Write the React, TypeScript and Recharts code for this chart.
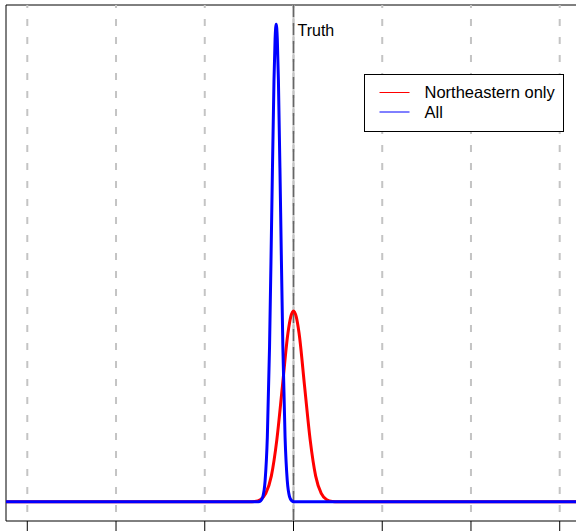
import { Legend, Line, LineChart, ReferenceArea, ReferenceLine, XAxis, YAxis } from 'recharts';

// density of the estimate, Northeastern only
const redX = [-3.24, -0.5, -0.4375, -0.375, -0.3125, -0.25, -0.1875, -0.125, -0.0625, -0.03125, 0, 0.03125, 0.0625, 0.125, 0.1875, 0.25, 0.3125, 0.375, 0.4375, 0.5, 3.24];
const redY = [0, 0.001, 0.007, 0.035, 0.14, 0.43, 1.04, 1.93, 2.82, 3.09, 3.19, 3.09, 2.82, 1.93, 1.04, 0.43, 0.14, 0.035, 0.007, 0.001, 0];

// density of the estimate, all units
const blueX = [-3.24, -0.395, -0.37, -0.345, -0.32, -0.295, -0.27, -0.245, -0.22, -0.2075, -0.195, -0.1825, -0.17, -0.145, -0.12, -0.095, -0.07, -0.045, -0.02, 0.005, 3.24];
const blueY = [0, 0.003, 0.018, 0.089, 0.35, 1.08, 2.59, 4.84, 7.04, 7.73, 7.98, 7.73, 7.04, 4.84, 2.59, 1.08, 0.35, 0.089, 0.018, 0.003, 0];

const gridX = [-3, -2, -1, 0, 1, 2, 3];
const truth = 0;
const xDomain: [number, number] = [-3.24, 3.24];
const yDomain: [number, number] = [-0.32, 8.3];

const seriesNames = ['Northeastern only', 'All'];
const seriesColors = ['#ff0000', '#0000ff'];

const redData = redX.map((x, i) => ({ x, y: redY[i] }));
const blueData = blueX.map((x, i) => ({ x, y: blueY[i] }));

const font = '"Liberation Sans", Arial, sans-serif';

function LegendBox() {
    return (
        <svg width={201} height={59} style={{ display: 'block' }}>
            <rect x={0.5} y={0.5} width={199} height={57} fill="#fff" stroke="#000" strokeWidth={1} />
            {seriesNames.map((name, i) => (
                <g key={name}>
                    <line x1={15.5} x2={45.5} y1={18.5 + i * 19.5} y2={18.5 + i * 19.5} stroke={seriesColors[i]} strokeWidth={1} />
                    <text x={60.5} y={24 + i * 19.5} fontSize={16.5} fontFamily={font} fill="#000">
                        {name}
                    </text>
                </g>
            ))}
        </svg>
    );
}

export default function App() {
    return (
        <div style={{ position: 'fixed', left: 0, top: 0, width: 576, height: 531, overflow: 'hidden', background: '#fff' }}>
            <LineChart width={600} height={561} margin={{ top: 5, right: 19, left: 6, bottom: 0 }}>
                <XAxis
                    dataKey="x"
                    type="number"
                    domain={xDomain}
                    ticks={gridX}
                    allowDataOverflow
                    axisLine={false}
                    tickSize={12}
                    tickLine={{ stroke: '#000' }}
                    tick={() => <g />}
                    height={40}
                />
                <YAxis type="number" domain={yDomain} allowDataOverflow hide />
                {gridX.map((g) => (
                    <ReferenceLine key={g} x={g} stroke="#c4c4c4" strokeWidth={2} strokeDasharray="7 11" strokeDashoffset={9} />
                ))}
                <ReferenceLine x={truth} stroke="#c4c4c4" strokeWidth={2} />
                <ReferenceLine
                    x={truth}
                    stroke="#666"
                    strokeWidth={1.5}
                    strokeDasharray="12 6"
                    label={({ viewBox }: any) => (
                        <text x={viewBox.x + 4} y={viewBox.y + 31} fontSize={16} fontFamily={font} fill="#000">
                            Truth
                        </text>
                    )}
                />
                <ReferenceArea x1={xDomain[0]} x2={xDomain[1]} y1={yDomain[0]} y2={yDomain[1]} fill="none" stroke="#000" strokeWidth={1} ifOverflow="visible" />
                <Line data={redData} dataKey="y" name={seriesNames[0]} type="monotone" stroke={seriesColors[0]} strokeWidth={3} dot={false} isAnimationActive={false} />
                <Line data={blueData} dataKey="y" name={seriesNames[1]} type="monotone" stroke={seriesColors[1]} strokeWidth={3} dot={false} isAnimationActive={false} />
                <Legend
                    layout="horizontal"
                    verticalAlign="middle"
                    align="center"
                    content={() => <LegendBox />}
                    wrapperStyle={{ position: 'absolute', left: 364, top: 74, width: 201, height: 59 }}
                />
            </LineChart>
        </div>
    );
}
